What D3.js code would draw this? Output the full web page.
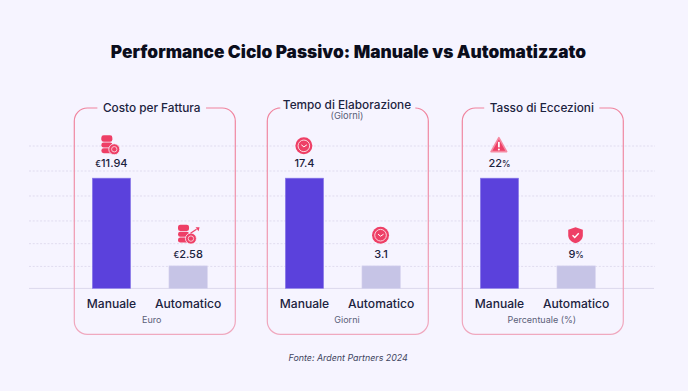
<!DOCTYPE html>
<html>
<head>
<meta charset="utf-8">
<script src="https://cdn.jsdelivr.net/npm/d3@7"></script>
<style>
  html, body { margin: 0; padding: 0; background: #f6f4ff; }
  svg { display: block; font-family: Inter, "Noto Sans", sans-serif; fill: #1c2340; }
</style>
</head>
<body>
<div id="chart"></div>
<script>
const chartTitle = "Performance Ciclo Passivo: Manuale vs Automatizzato";
const source = "Fonte: Ardent Partners 2024";
const categories = ["Manuale", "Automatico"];
const panelTitles = ["Costo per Fattura", "Tempo di Elaborazione", "Tasso di Eccezioni"];
const panelSubtitles = ["", "(Giorni)", ""];
const panelUnits = ["Euro", "Giorni", "Percentuale (%)"];
const valueLabels = [["€11.94", "€2.58"], ["17.4", "3.1"], ["22%", "9%"]];
// bars in the picture are not to scale: heights are read in gridline steps
const manualeHeights = [4.9, 4.9, 4.9];
const automaticoHeights = [1, 1, 1];
const gridTicks = [1, 2.01, 3.02, 4.13, 5.24, 6.35];
const icons = [["coins", "coinsUp"], ["clock", "clock"], ["warning", "shield"]];

const width = 688;
const height = 391;
const pink = "#ee3f66";

const panelLeft = [74.3, 267.3, 462.3];
const panelW = 161;
const panelCenter = [151.7, 347, 541.8];
const titleY = [111.7, 108.5, 111.7];
const labelOffset = [10.8, 7.8];
const iconOffset = [32.3, 30.7];

const svg = d3.select("#chart").append("svg")
  .attr("width", width).attr("height", height);

const defs = svg.append("defs");
const frameGrad = defs.append("linearGradient").attr("id", "frame")
  .attr("x1", 0).attr("x2", 0).attr("y1", 0).attr("y2", 1);
frameGrad.append("stop").attr("offset", "0%").attr("stop-color", "#f0839d");
frameGrad.append("stop").attr("offset", "100%").attr("stop-color", "#f0a9bf");

// one y step is about 22.5px in the picture
const y = d3.scaleLinear().domain([0, 6]).range([288.4, 153.4]);
const x = d3.scaleBand().domain(categories).range([18, 133]).paddingInner(0.5).paddingOuter(0);

svg.append("text").attr("x", 348.5).attr("y", 58).attr("text-anchor", "middle")
  .attr("font-size", 17.3).attr("font-weight", 900).attr("fill", "#0b0d1c").text(chartTitle);

// grid
const grid = svg.append("g")
  .attr("transform", "translate(29,0)")
  .call(d3.axisLeft(y).tickValues(gridTicks).tickSize(-626).tickFormat(""));
grid.select(".domain").remove();
grid.selectAll("line").attr("stroke", "#e0dcef").attr("stroke-dasharray", "2 1.7");

svg.append("line").attr("x1", 29).attr("x2", 654).attr("y1", y(0)).attr("y2", y(0))
  .attr("stroke", "#dcd8ec");

const iconDraw = {
  coins(g) {
    [4.8, -0.9, -6.6, -8].forEach((cy) => {
      g.append("rect").attr("x", -9.5).attr("y", cy - 2.5).attr("width", 11).attr("height", 5)
        .attr("rx", 2.3).attr("fill", pink);
    });
    g.append("circle").attr("cx", 3.4).attr("cy", 3.4).attr("r", 5.5).attr("fill", pink)
      .attr("stroke", "#f6f4ff").attr("stroke-width", 0.8);
    g.append("circle").attr("cx", 3.4).attr("cy", 3.4).attr("r", 2.7).attr("fill", "none")
      .attr("stroke", "#f9c6d2").attr("stroke-width", 1);
  },
  coinsUp(g) {
    iconDraw.coins(g);
    g.append("path").attr("d", "M3 -2L9 -6").attr("fill", "none").attr("stroke", pink).attr("stroke-width", 1.2);
    g.append("path").attr("d", "M8 -8L12 -8L11 -4Z").attr("fill", pink);
  },
  clock(g) {
    g.append("circle").attr("r", 8.5).attr("fill", pink);
    g.append("circle").attr("r", 5.8).attr("fill", "none").attr("stroke", "#fbd5dd").attr("stroke-width", 1);
    g.append("path").attr("d", "M-2.5 -1L0 1L3 -1").attr("fill", "none")
      .attr("stroke", "#fff").attr("stroke-width", 1);
  },
  warning(g) {
    g.append("path").attr("d", "M0 -8.2L7.8 5.8L-7.8 5.8Z").attr("fill", pink)
      .attr("stroke", "#f58aa2").attr("stroke-width", 1.6).attr("stroke-linejoin", "round");
    g.append("rect").attr("x", -0.9).attr("y", -4).attr("width", 1.8).attr("height", 5.5).attr("fill", "#fff");
    g.append("circle").attr("cy", 3.6).attr("r", 1).attr("fill", "#fff");
  },
  shield(g) {
    g.append("path").attr("d", "M0 -8L7.3 -5.5L7.3 0C7.3 4.5 3.5 6.8 0 8C-3.5 6.8 -7.3 4.5 -7.3 0L-7.3 -5.5Z").attr("fill", pink);
    g.append("path").attr("d", "M-3 0L-0.8 2.2L3.2 -2").attr("fill", "none")
      .attr("stroke", "#fff").attr("stroke-width", 1.4);
  },
};

panelTitles.forEach((title, i) => {
  const left = panelLeft[i];
  const g = svg.append("g").attr("transform", `translate(${left},0)`);
  const cx = panelCenter[i] - left;

  const titleText = g.append("text").attr("x", cx).attr("y", titleY[i]).attr("text-anchor", "middle")
    .attr("font-size", 11.8).attr("font-weight", 500).text(title);
  const gap = titleText.node().getComputedTextLength() / 2 + 5.5;

  const r = 13, top = 108, bot = 334.3;
  g.append("path")
    .attr("d", `M${cx - gap} ${top}H${r}A${r} ${r} 0 0 0 0 ${top + r}V${bot - r}A${r} ${r} 0 0 0 ${r} ${bot}` +
      `H${panelW - r}A${r} ${r} 0 0 0 ${panelW} ${bot - r}V${top + r}A${r} ${r} 0 0 0 ${panelW - r} ${top}H${cx + gap}`)
    .attr("fill", "none").attr("stroke", "url(#frame)").attr("stroke-width", 1.2);

  if (panelSubtitles[i]) {
    g.append("text").attr("x", cx).attr("y", 119.4).attr("text-anchor", "middle")
      .attr("font-size", 9.3).attr("fill", "#5a6078").text(panelSubtitles[i]);
  }

  const heights = [manualeHeights[i], automaticoHeights[i]];
  categories.forEach((c, k) => {
    const mid = x(c) + x.bandwidth() / 2;
    g.append("rect").attr("x", x(c)).attr("y", y(heights[k])).attr("width", x.bandwidth())
      .attr("height", y(0) - y(heights[k]))
      .attr("fill", k === 0 ? "#5b41dc" : "#c6c4e6")
      .attr("stroke", k === 0 ? "#8f80ea" : "#d5d3ee").attr("stroke-width", 0.6);

    const label = g.append("text").attr("x", mid).attr("y", y(heights[k]) - labelOffset[k])
      .attr("text-anchor", "middle").attr("font-size", 11).attr("font-weight", 500);
    label.selectAll("tspan")
      .data(valueLabels[i][k].split(/([€%])/).filter((d) => d))
      .join("tspan")
      .attr("font-size", (d) => (/[€%]/.test(d) ? 8.5 : null))
      .text((d) => d);

    iconDraw[icons[i][k]](g.append("g")
      .attr("transform", `translate(${mid - 0.6},${y(heights[k]) - iconOffset[k]})`));

    g.append("text").attr("x", mid).attr("y", 307.8).attr("text-anchor", "middle")
      .attr("font-size", 12.1).attr("font-weight", 500).text(c);
  });

  g.append("text").attr("x", cx).attr("y", 323).attr("text-anchor", "middle")
    .attr("font-size", 9).attr("fill", "#5a6078").text(panelUnits[i]);
});

svg.append("text").attr("x", 348.2).attr("y", 360.8).attr("text-anchor", "middle")
  .attr("font-size", 8.9).attr("font-style", "italic").attr("fill", "#3e4460").text(source);
</script>
</body>
</html>
